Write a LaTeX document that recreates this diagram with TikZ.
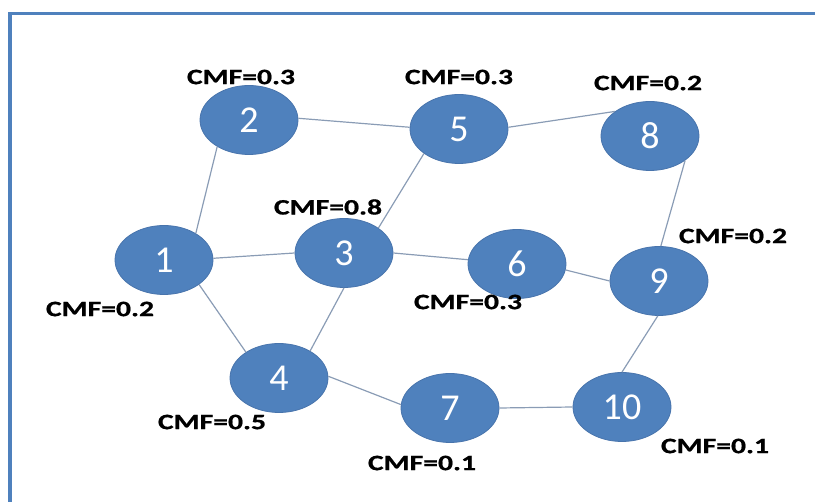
\documentclass[tikz,border=0pt]{standalone}
\usepackage{fontspec}
\setmainfont{Carlito}
\newfontfamily\labfont[FakeStretch=1.35,BoldFeatures={FakeBold=0.8}]{Carlito}
\usetikzlibrary{shapes.geometric}
\definecolor{nodeblue}{HTML}{4F81BD}
\definecolor{nodeedge}{HTML}{4874AC}
\definecolor{linkcol}{HTML}{8A9CB5}
\definecolor{framecol}{HTML}{4F81BD}
\tikzset{
  vert/.style={ellipse, fill=nodeblue, draw=nodeedge, line width=0.8pt,
    minimum width=98pt, minimum height=69pt, inner sep=0pt,
    text=white, font=\fontsize{38}{40}\selectfont},
  cmf/.style={inner sep=0pt, text=black, font=\labfont\bfseries\fontsize{22}{24}\selectfont},
  link/.style={draw=linkcol, line width=1.2pt},
  framebar/.style={draw=framecol, line width=3.8pt}
}
\begin{document}
\begin{tikzpicture}[x=1pt,y=-1pt]
\useasboundingbox (0,0) rectangle (815,502);
\coordinate (fa) at (10,504);
\coordinate (fb) at (10,13.5);
\coordinate (fc) at (817,13.5);
\draw[framebar] (fa) -- (fb) -- (fc);

\node[vert] (n1) at (164,260) {1};
\node[vert] (n2) at (249,120) {2};
\node[vert] (n3) at (344,253) {3};
\node[vert] (n4) at (279,378) {4};
\node[vert] (n5) at (459,129) {5};
\node[vert] (n6) at (517,264) {6};
\node[vert] (n7) at (450,408) {7};
\node[vert] (n8) at (650,136) {8};
\node[vert] (n9) at (659,281) {9};
\node[vert] (n10) at (622,407) {10};

\draw[link] (n1.40) -- (n2.220);
\draw[link] (n2.2) -- (n5.178);
\draw[link] (n5.2) -- (n8.145);
\draw[link] (n5.215) -- (n3.36);
\draw[link] (n1.2) -- (n3.180);
\draw[link] (n3.0) -- (n6.175);
\draw[link] (n6.353) -- (n9.180);
\draw[link] (n8.325) -- (n9.87);
\draw[link] (n9.268) -- (n10.90);
\draw[link] (n7.0) -- (n10.180);
\draw[link] (n4.2) -- (n7.176);
\draw[link] (n1.325) -- (n4.142);
\draw[link] (n3.270) -- (n4.41);

\node[cmf] (c2) at (241,77) {CMF=0.3};
\node[cmf] (c5) at (459,77) {CMF=0.3};
\node[cmf] (c8) at (648,83) {CMF=0.2};
\node[cmf] (c3) at (328,207) {CMF=0.8};
\node[cmf] (c9) at (733,236) {CMF=0.2};
\node[cmf] (c1) at (100,309) {CMF=0.2};
\node[cmf] (c6) at (468,302) {CMF=0.3};
\node[cmf] (c4) at (212,422) {CMF=0.5};
\node[cmf] (c7) at (422,463) {CMF=0.1};
\node[cmf] (c10) at (715,446) {CMF=0.1};
\end{tikzpicture}
\end{document}
